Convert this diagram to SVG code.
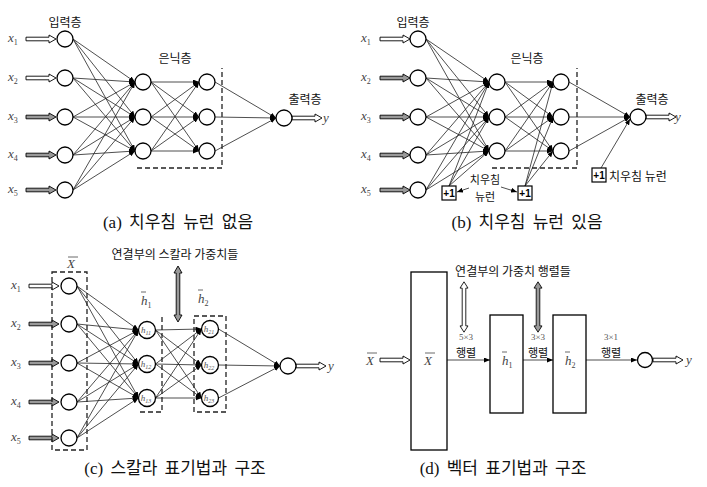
<svg xmlns="http://www.w3.org/2000/svg" xmlns:xlink="http://www.w3.org/1999/xlink" width="707" height="487" viewBox="0 0 707 487">
<style>
.n{fill:#fff;stroke:#000;stroke-width:1.3}
.c line{stroke:#222;stroke-width:0.8;marker-end:url(#ah)}
.k{font-family:"Noto Sans CJK KR","Noto Sans",sans-serif;font-size:12px;fill:#111}
.cap{font-family:"Liberation Serif","Noto Sans CJK KR",serif;font-size:17px;word-spacing:3px;fill:#111;text-anchor:middle}
.m{font-family:"Liberation Serif",serif;font-style:italic;font-size:13px;fill:#444}
.s{font-size:8px;font-style:normal}
.hm{font-family:"Liberation Serif",serif;font-style:italic;font-size:9px;fill:#555;text-anchor:middle}
.hs{font-size:6px}
.d{fill:none;stroke:#222;stroke-width:1.3;stroke-dasharray:5,3}
.dar{stroke:#000;stroke-width:0.9}
.g{fill:#999}
.w{fill:#fff}
.b{fill:#fff;stroke:#000;stroke-width:1.2}
.bt{font-family:"Liberation Sans",sans-serif;font-weight:bold;font-size:10px;text-anchor:middle;fill:#000}
.r{fill:#fff;stroke:#000;stroke-width:1.3}
.t{font-family:"Liberation Serif",serif;font-size:9px;fill:#555;text-anchor:middle}
.ob{stroke:#444;stroke-width:0.8}
</style>
<defs>
<marker id="ah" viewBox="0 0 6 5" refX="6" refY="2.5" markerWidth="6" markerHeight="5" markerUnits="userSpaceOnUse" orient="auto"><path d="M0,0L6,2.5L0,5z" fill="#000"/></marker>
<path id="dar" d="M0,-1.8H23V-4L30,0L23,4V1.8H0Z"/>
<path id="var" d="M-1.8,-21H-4L0,-28L4,-21H1.8V21H4L0,28L-4,21H-1.8Z"/>
</defs>
<rect width="707" height="487" fill="#fff"/>

<!-- ===== Panel (a) ===== -->
<g id="conn-a" class="c">
<line x1="73" y1="39" x2="135" y2="82"/><line x1="73" y1="39" x2="135" y2="117"/><line x1="73" y1="39" x2="135" y2="151"/>
<line x1="73" y1="78" x2="135" y2="82"/><line x1="73" y1="78" x2="135" y2="117"/><line x1="73" y1="78" x2="135" y2="151"/>
<line x1="73" y1="117" x2="135" y2="82"/><line x1="73" y1="117" x2="135" y2="117"/><line x1="73" y1="117" x2="135" y2="151"/>
<line x1="73" y1="155" x2="135" y2="82"/><line x1="73" y1="155" x2="135" y2="117"/><line x1="73" y1="155" x2="135" y2="151"/>
<line x1="73" y1="190" x2="135" y2="82"/><line x1="73" y1="190" x2="135" y2="117"/><line x1="73" y1="190" x2="135" y2="151"/>
<line x1="151" y1="82" x2="199" y2="82"/><line x1="151" y1="82" x2="199" y2="117"/><line x1="151" y1="82" x2="199" y2="151"/>
<line x1="151" y1="117" x2="199" y2="82"/><line x1="151" y1="117" x2="199" y2="117"/><line x1="151" y1="117" x2="199" y2="151"/>
<line x1="151" y1="151" x2="199" y2="82"/><line x1="151" y1="151" x2="199" y2="117"/><line x1="151" y1="151" x2="199" y2="151"/>
<line x1="215" y1="82" x2="276" y2="118"/><line x1="215" y1="117" x2="276" y2="118"/><line x1="215" y1="151" x2="276" y2="118"/>
</g>
<g id="arrows-a">
<use href="#dar" x="26" y="39" class="dar w"/>
<use href="#dar" x="26" y="78" class="dar w"/>
<use href="#dar" x="26" y="117" class="dar g"/>
<use href="#dar" x="26" y="155" class="dar g"/>
<use href="#dar" x="26" y="190" class="dar g"/>
<use href="#dar" x="292" y="118" class="dar w"/>
</g>
<g id="a-in1"><circle class="n" cx="65" cy="39" r="8"/><text class="m" x="8" y="42">x<tspan class="s" dy="3">1</tspan></text></g>
<g id="a-in2"><circle class="n" cx="65" cy="78" r="8"/><text class="m" x="8" y="81">x<tspan class="s" dy="3">2</tspan></text></g>
<g id="a-in3"><circle class="n" cx="65" cy="117" r="8"/><text class="m" x="8" y="120">x<tspan class="s" dy="3">3</tspan></text></g>
<g id="a-in4"><circle class="n" cx="65" cy="155" r="8"/><text class="m" x="8" y="158">x<tspan class="s" dy="3">4</tspan></text></g>
<g id="a-in5"><circle class="n" cx="65" cy="190" r="8"/><text class="m" x="8" y="193">x<tspan class="s" dy="3">5</tspan></text></g>
<g id="a-h11"><circle class="n" cx="143" cy="82" r="8"/></g>
<g id="a-h12"><circle class="n" cx="143" cy="117" r="8"/></g>
<g id="a-h13"><circle class="n" cx="143" cy="151" r="8"/></g>
<g id="a-h21"><circle class="n" cx="207" cy="82" r="8"/></g>
<g id="a-h22"><circle class="n" cx="207" cy="117" r="8"/></g>
<g id="a-h23"><circle class="n" cx="207" cy="151" r="8"/></g>
<g id="a-out"><circle class="n" cx="284" cy="118" r="8"/><text class="m" x="323" y="122">y</text></g>
<path class="d" d="M137,168H222V68"/>
<text class="k" x="65" y="27" text-anchor="middle">입력층</text>
<text class="k" x="175" y="63" text-anchor="middle">은닉층</text>
<text class="k" x="305" y="104" text-anchor="middle">출력층</text>
<text class="cap" x="178" y="228">(a) 치우침 뉴런 없음</text>

<!-- ===== Panel (b) ===== -->
<g id="conn-b" class="c">
<line x1="426" y1="39" x2="489" y2="82"/><line x1="426" y1="39" x2="489" y2="117"/><line x1="426" y1="39" x2="489" y2="151"/>
<line x1="426" y1="78" x2="489" y2="82"/><line x1="426" y1="78" x2="489" y2="117"/><line x1="426" y1="78" x2="489" y2="151"/>
<line x1="426" y1="117" x2="489" y2="82"/><line x1="426" y1="117" x2="489" y2="117"/><line x1="426" y1="117" x2="489" y2="151"/>
<line x1="426" y1="155" x2="489" y2="82"/><line x1="426" y1="155" x2="489" y2="117"/><line x1="426" y1="155" x2="489" y2="151"/>
<line x1="426" y1="190" x2="489" y2="82"/><line x1="426" y1="190" x2="489" y2="117"/><line x1="426" y1="190" x2="489" y2="151"/>
<line x1="449" y1="186" x2="489" y2="82"/><line x1="449" y1="186" x2="489" y2="117"/><line x1="449" y1="186" x2="489" y2="151"/>
<line x1="505" y1="82" x2="553" y2="82"/><line x1="505" y1="82" x2="553" y2="117"/><line x1="505" y1="82" x2="553" y2="151"/>
<line x1="505" y1="117" x2="553" y2="82"/><line x1="505" y1="117" x2="553" y2="117"/><line x1="505" y1="117" x2="553" y2="151"/>
<line x1="505" y1="151" x2="553" y2="82"/><line x1="505" y1="151" x2="553" y2="117"/><line x1="505" y1="151" x2="553" y2="151"/>
<line x1="525" y1="186" x2="553" y2="82"/><line x1="525" y1="186" x2="553" y2="117"/><line x1="525" y1="186" x2="553" y2="151"/>
<line x1="569" y1="82" x2="630" y2="117"/><line x1="569" y1="117" x2="630" y2="117"/><line x1="569" y1="151" x2="630" y2="117"/>
<line x1="601" y1="168" x2="630" y2="119"/>
<line x1="469" y1="188" x2="457" y2="192"/>
<line x1="501" y1="187" x2="517" y2="192"/>
</g>
<g id="arrows-b">
<use href="#dar" x="380" y="39" class="dar w"/>
<use href="#dar" x="380" y="78" class="dar g"/>
<use href="#dar" x="380" y="117" class="dar g"/>
<use href="#dar" x="380" y="155" class="dar g"/>
<use href="#dar" x="380" y="190" class="dar g"/>
<use href="#dar" x="646" y="117" class="dar w"/>
</g>
<g id="b-in1"><circle class="n" cx="418" cy="39" r="8"/><text class="m" x="361" y="42">x<tspan class="s" dy="3">1</tspan></text></g>
<g id="b-in2"><circle class="n" cx="418" cy="78" r="8"/><text class="m" x="361" y="81">x<tspan class="s" dy="3">2</tspan></text></g>
<g id="b-in3"><circle class="n" cx="418" cy="117" r="8"/><text class="m" x="361" y="120">x<tspan class="s" dy="3">3</tspan></text></g>
<g id="b-in4"><circle class="n" cx="418" cy="155" r="8"/><text class="m" x="361" y="158">x<tspan class="s" dy="3">4</tspan></text></g>
<g id="b-in5"><circle class="n" cx="418" cy="190" r="8"/><text class="m" x="361" y="193">x<tspan class="s" dy="3">5</tspan></text></g>
<g id="b-h11"><circle class="n" cx="497" cy="82" r="8"/></g>
<g id="b-h12"><circle class="n" cx="497" cy="117" r="8"/></g>
<g id="b-h13"><circle class="n" cx="497" cy="151" r="8"/></g>
<g id="b-h21"><circle class="n" cx="561" cy="82" r="8"/></g>
<g id="b-h22"><circle class="n" cx="561" cy="117" r="8"/></g>
<g id="b-h23"><circle class="n" cx="561" cy="151" r="8"/></g>
<g id="b-out"><circle class="n" cx="638" cy="117" r="8"/><text class="m" x="675" y="121">y</text></g>
<g id="b-bias1"><rect class="b" x="442" y="186" width="14" height="14"/><text class="bt" x="449" y="197">+1</text></g>
<g id="b-bias2"><rect class="b" x="518" y="186" width="14" height="14"/><text class="bt" x="525" y="197">+1</text></g>
<g id="b-bias3"><rect class="b" x="592" y="168" width="14" height="14"/><text class="bt" x="599" y="179">+1</text></g>
<path class="d" d="M492,168H577V68"/>
<text class="k" x="413" y="27" text-anchor="middle">입력층</text>
<text class="k" x="527" y="63" text-anchor="middle">은닉층</text>
<text class="k" x="652" y="104" text-anchor="middle">출력층</text>
<text class="k" x="485" y="184" text-anchor="middle" style="font-size:11px">치우침</text>
<text class="k" x="485" y="201" text-anchor="middle" style="font-size:11px">뉴런</text>
<text class="k" x="609" y="181">치우침 뉴런</text>
<text class="cap" x="527" y="228">(b) 치우침 뉴런 있음</text>

<!-- ===== Panel (c) ===== -->
<g id="conn-c" class="c">
<line x1="77" y1="286" x2="138.5" y2="330"/><line x1="77" y1="286" x2="138.5" y2="364"/><line x1="77" y1="286" x2="138.5" y2="398"/>
<line x1="77" y1="324" x2="138.5" y2="330"/><line x1="77" y1="324" x2="138.5" y2="364"/><line x1="77" y1="324" x2="138.5" y2="398"/>
<line x1="77" y1="363" x2="138.5" y2="330"/><line x1="77" y1="363" x2="138.5" y2="364"/><line x1="77" y1="363" x2="138.5" y2="398"/>
<line x1="77" y1="402" x2="138.5" y2="330"/><line x1="77" y1="402" x2="138.5" y2="364"/><line x1="77" y1="402" x2="138.5" y2="398"/>
<line x1="77" y1="438" x2="138.5" y2="330"/><line x1="77" y1="438" x2="138.5" y2="364"/><line x1="77" y1="438" x2="138.5" y2="398"/>
<line x1="155.5" y1="330" x2="201.5" y2="329"/><line x1="155.5" y1="330" x2="201.5" y2="365"/><line x1="155.5" y1="330" x2="201.5" y2="398"/>
<line x1="155.5" y1="364" x2="201.5" y2="329"/><line x1="155.5" y1="364" x2="201.5" y2="365"/><line x1="155.5" y1="364" x2="201.5" y2="398"/>
<line x1="155.5" y1="398" x2="201.5" y2="329"/><line x1="155.5" y1="398" x2="201.5" y2="365"/><line x1="155.5" y1="398" x2="201.5" y2="398"/>
<line x1="218.5" y1="329" x2="280" y2="366"/><line x1="218.5" y1="365" x2="280" y2="366"/><line x1="218.5" y1="398" x2="280" y2="366"/>
</g>
<g id="arrows-c">
<use href="#dar" x="29" y="286" class="dar w"/>
<use href="#dar" x="29" y="324" class="dar g"/>
<use href="#dar" x="29" y="363" class="dar g"/>
<use href="#dar" x="29" y="402" class="dar g"/>
<use href="#dar" x="29" y="438" class="dar g"/>
<use href="#dar" x="296" y="366" class="dar w"/>
<use href="#var" x="178" y="294" class="dar g"/>
</g>
<g id="c-in1"><circle class="n" cx="69" cy="286" r="8"/><text class="m" x="11" y="289">x<tspan class="s" dy="3">1</tspan></text></g>
<g id="c-in2"><circle class="n" cx="69" cy="324" r="8"/><text class="m" x="11" y="327">x<tspan class="s" dy="3">2</tspan></text></g>
<g id="c-in3"><circle class="n" cx="69" cy="363" r="8"/><text class="m" x="11" y="366">x<tspan class="s" dy="3">3</tspan></text></g>
<g id="c-in4"><circle class="n" cx="69" cy="402" r="8"/><text class="m" x="11" y="405">x<tspan class="s" dy="3">4</tspan></text></g>
<g id="c-in5"><circle class="n" cx="69" cy="438" r="8"/><text class="m" x="11" y="441">x<tspan class="s" dy="3">5</tspan></text></g>
<g id="c-h11"><circle class="n" cx="147" cy="330" r="8.5"/><text class="hm" x="146" y="333">h<tspan class="hs" dy="2">11</tspan></text></g>
<g id="c-h12"><circle class="n" cx="147" cy="364" r="8.5"/><text class="hm" x="146" y="367">h<tspan class="hs" dy="2">12</tspan></text></g>
<g id="c-h13"><circle class="n" cx="147" cy="398" r="8.5"/><text class="hm" x="146" y="401">h<tspan class="hs" dy="2">13</tspan></text></g>
<g id="c-h21"><circle class="n" cx="210" cy="329" r="8.5"/><text class="hm" x="209" y="332">h<tspan class="hs" dy="2">21</tspan></text></g>
<g id="c-h22"><circle class="n" cx="210" cy="365" r="8.5"/><text class="hm" x="209" y="368">h<tspan class="hs" dy="2">22</tspan></text></g>
<g id="c-h23"><circle class="n" cx="210" cy="398" r="8.5"/><text class="hm" x="209" y="401">h<tspan class="hs" dy="2">23</tspan></text></g>
<g id="c-out"><circle class="n" cx="288" cy="366" r="8"/><text class="m" x="328" y="370">y</text></g>
<rect class="d" x="52" y="272" width="35" height="178"/>
<path class="d" d="M140,412H162V315"/>
<rect class="d" x="194" y="316" width="32" height="96"/>
<text class="m" x="67" y="268">X</text><line class="ob" x1="68" y1="257" x2="78" y2="257"/>
<text class="m" x="141" y="305">h<tspan class="s" dy="3">1</tspan></text><line class="ob" x1="141" y1="292" x2="146" y2="292"/>
<text class="m" x="198" y="303">h<tspan class="s" dy="3">2</tspan></text><line class="ob" x1="198" y1="290" x2="203" y2="290"/>
<text class="k" x="175" y="259" text-anchor="middle">연결부의 스칼라 가중치들</text>
<text class="cap" x="175" y="474">(c) 스칼라 표기법과 구조</text>

<!-- ===== Panel (d) ===== -->
<g id="conn-d" class="c">
<line x1="447" y1="360" x2="490" y2="360"/>
<line x1="523" y1="360" x2="553" y2="360"/>
<line x1="586" y1="360" x2="637" y2="360"/>
</g>
<g id="arrows-d">
<use href="#dar" x="380" y="360" class="dar w"/>
<use href="#dar" x="653" y="360" class="dar w"/>
<use href="#var" x="464" y="307" transform="translate(464 307) scale(1 0.9) translate(-464 -307)" class="dar w"/>
<use href="#var" x="538" y="307" transform="translate(538 307) scale(1 0.9) translate(-538 -307)" class="dar g"/>
</g>
<g id="d-X"><rect class="r" x="411" y="272" width="36" height="178"/><text class="m" x="424" y="365">X</text><line class="ob" x1="425" y1="353" x2="435" y2="353"/></g>
<g id="d-h1"><rect class="r" x="490" y="315" width="33" height="98"/><text class="m" x="502" y="365">h<tspan class="s" dy="3">1</tspan></text><line class="ob" x1="502" y1="352" x2="507" y2="352"/></g>
<g id="d-h2"><rect class="r" x="553" y="315" width="33" height="98"/><text class="m" x="565" y="365">h<tspan class="s" dy="3">2</tspan></text><line class="ob" x1="565" y1="352" x2="570" y2="352"/></g>
<g id="d-out"><circle class="n" cx="645" cy="360" r="7.5"/><text class="m" x="686" y="364">y</text></g>
<text class="m" x="366" y="365">X</text><line class="ob" x1="367" y1="353" x2="377" y2="353"/>
<text class="t" x="466" y="340">5×3</text><text class="k" x="466" y="357" text-anchor="middle" style="font-size:11px">행렬</text>
<text class="t" x="538" y="340">3×3</text><text class="k" x="538" y="357" text-anchor="middle" style="font-size:11px">행렬</text>
<text class="t" x="611" y="340">3×1</text><text class="k" x="611" y="357" text-anchor="middle" style="font-size:11px">행렬</text>
<text class="k" x="513" y="276" text-anchor="middle">연결부의 가중치 행렬들</text>
<text class="cap" x="503" y="474">(d) 벡터 표기법과 구조</text>
</svg>
